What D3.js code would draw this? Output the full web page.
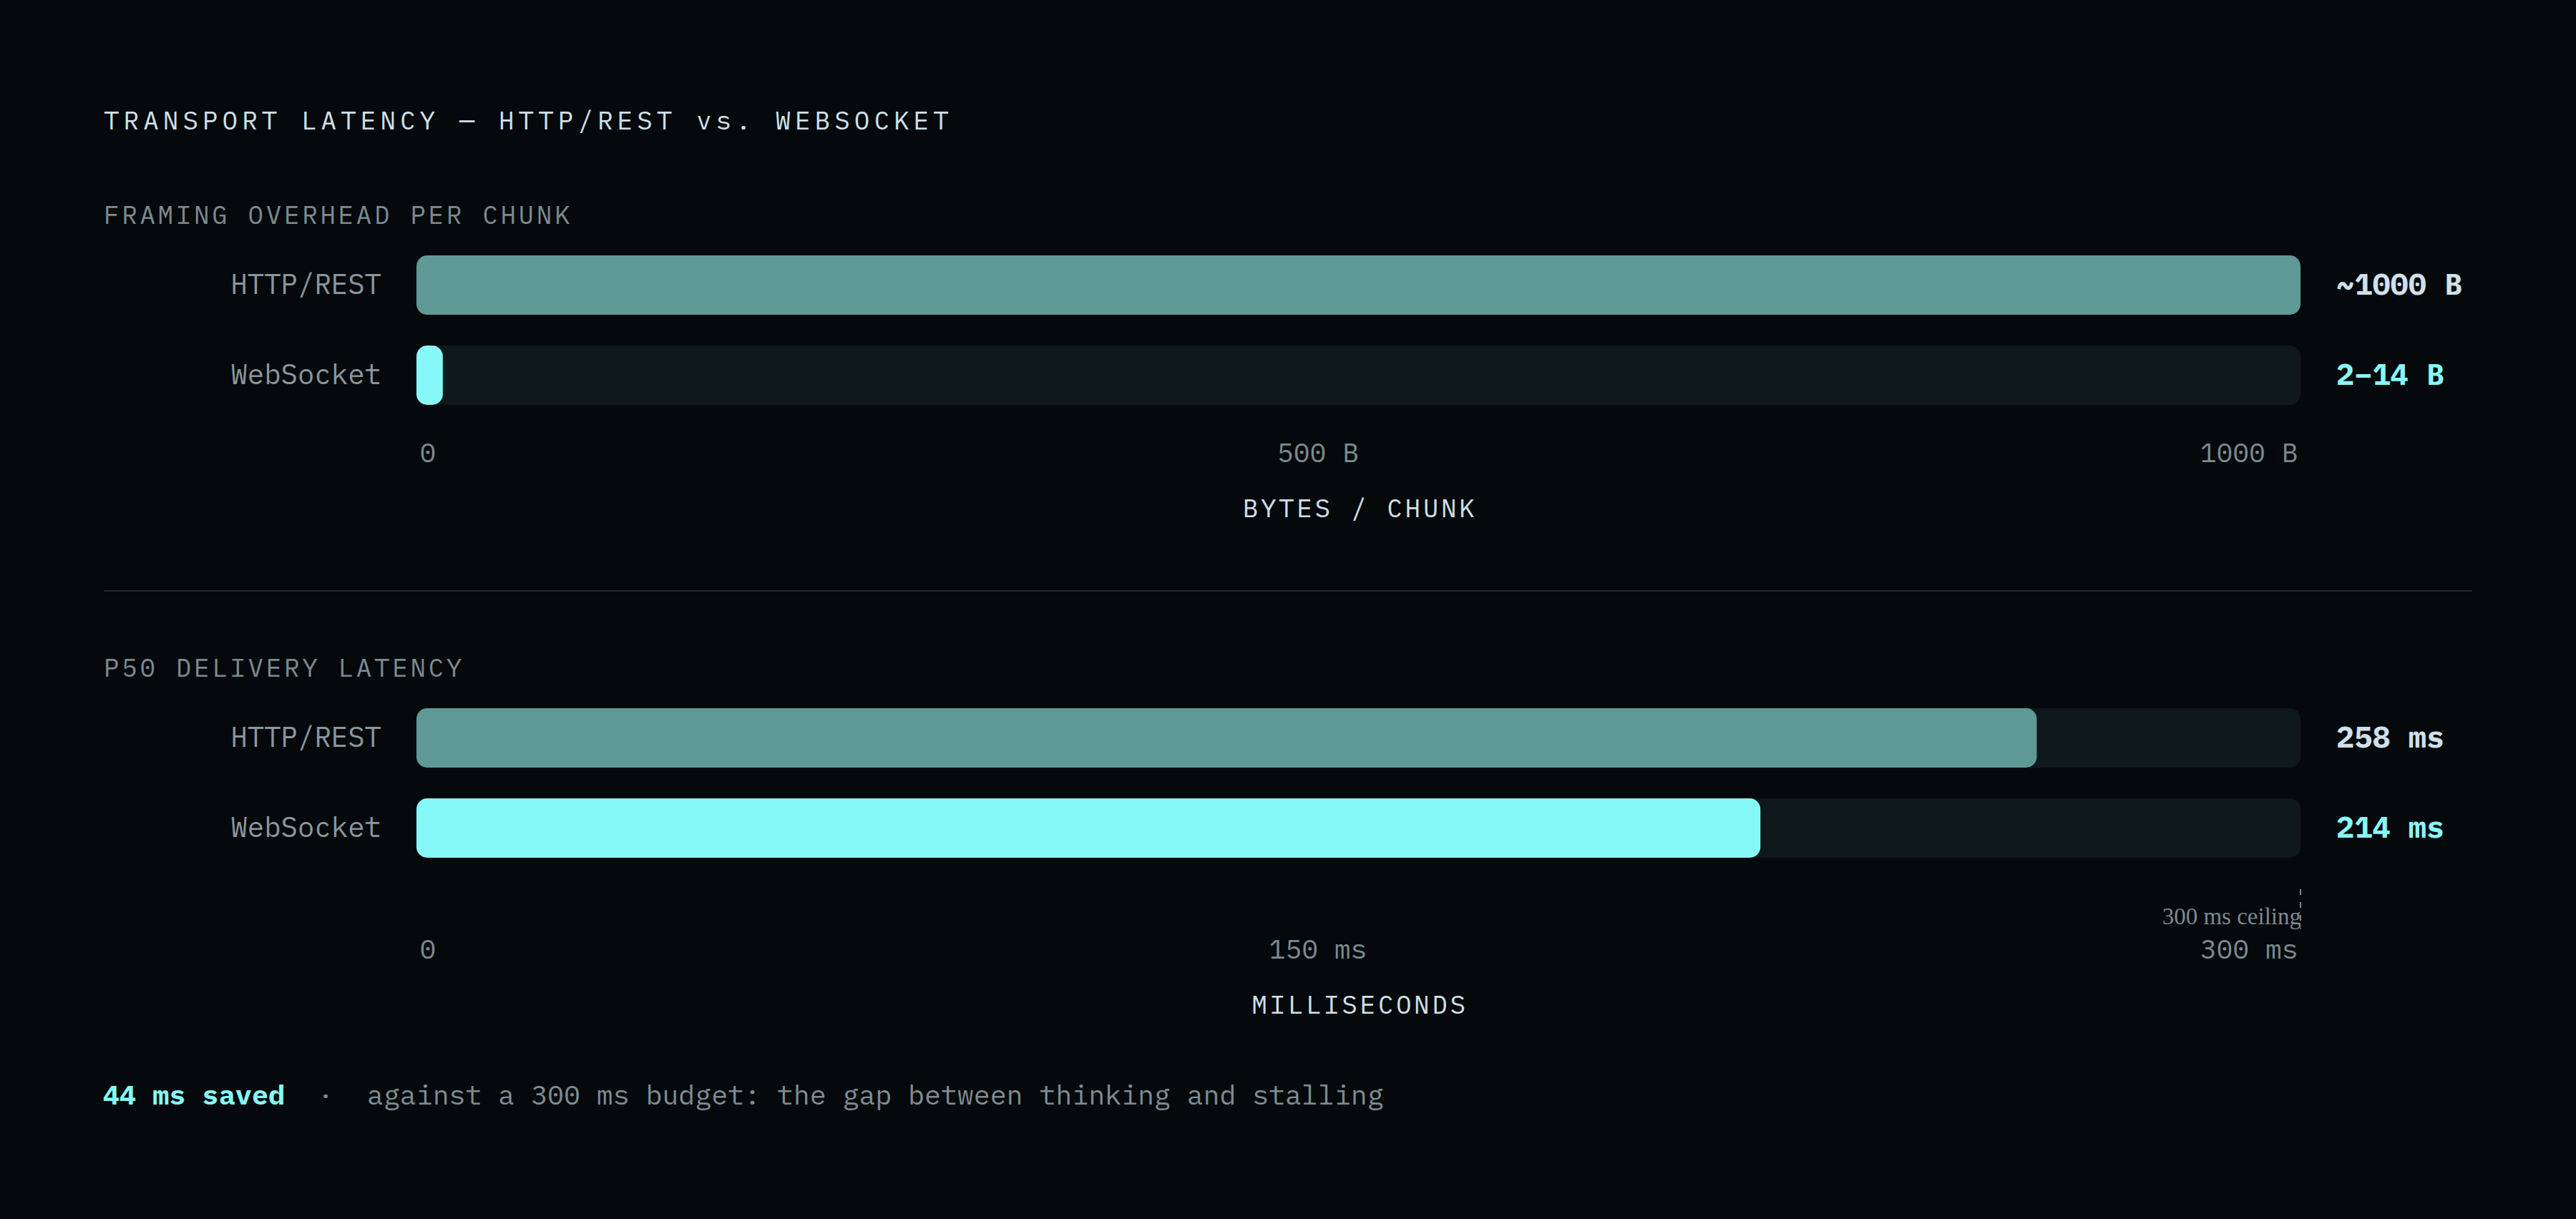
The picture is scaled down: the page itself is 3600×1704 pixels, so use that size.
<!DOCTYPE html>
<html>
<head>
<meta charset="utf-8">
<script src="https://cdn.jsdelivr.net/npm/d3@7"></script>
<style>
  html, body { margin: 0; padding: 0; background: #05090b; }
  svg { display: block; }
  .mono { font-family: "IBM Plex Mono", "DejaVu Sans Mono", monospace; }
</style>
</head>
<body>
<script>
// Chart values
const chartTitle = "TRANSPORT LATENCY — HTTP/REST vs. WEBSOCKET";
const sectionTitles = ["FRAMING OVERHEAD PER CHUNK", "P50 DELIVERY LATENCY"];
const axisTitles = ["BYTES / CHUNK", "MILLISECONDS"];
const transports = ["HTTP/REST", "WebSocket"];

const overheadBytes = [1000, 14];
const overheadLabels = ["~1000 B", "2–14 B"];
const overheadTicks = [0, 500, 1000];
const overheadTickLabels = ["0", "500 B", "1000 B"];

const latencyMs = [258, 214];
const latencyLabels = ["258 ms", "214 ms"];
const latencyTicks = [0, 150, 300];
const latencyTickLabels = ["0", "150 ms", "300 ms"];
const latencyCeiling = 300;

const footnote = "against a 300 ms budget: the gap between thinking and stalling";

// Colours
const bg = "#05090b";
const ink = "#cfe0ea";
const muted = "#7c8a91";
const track = "#0f191b";
const restColor = "#5f9996";
const wsColor = "#87f8f8";
const barColors = [restColor, wsColor];
const valueColors = [ink, wsColor];

// Layout
const W = 3600, H = 1704;
const left = 145;
const barX0 = 582, barX1 = 3215;
const barH = 83, rowStep = 126;

const svg = d3.select("body").append("svg")
  .attr("width", W)
  .attr("height", H)
  .attr("viewBox", `0 0 ${W} ${H}`);

svg.append("rect").attr("width", W).attr("height", H).attr("fill", bg);

svg.append("text")
  .attr("class", "mono")
  .attr("x", left)
  .attr("y", 181)
  .attr("fill", ink)
  .style("font-size", "36px")
  .style("letter-spacing", "6px")
  .text(chartTitle);

// one panel of two horizontal bars with its own axis
function drawPanel(opts) {
  const g = svg.append("g").attr("transform", `translate(0,${opts.top})`);

  const x = d3.scaleLinear()
    .domain([0, opts.max])
    .range([barX0, barX1]);

  const y = d3.scaleBand()
    .domain(transports)
    .range([44, 44 + rowStep + barH])
    .paddingInner((rowStep - barH) / rowStep)
    .paddingOuter(0)
    .align(0);

  g.append("text")
    .attr("class", "mono")
    .attr("x", left)
    .attr("y", 0)
    .attr("fill", muted)
    .style("font-size", "36px")
    .style("letter-spacing", "3.6px")
    .text(opts.title);

  const rows = g.selectAll("g.row")
    .data(transports.map((t, i) => ({ name: t, value: opts.values[i], label: opts.labels[i], i: i })))
    .enter().append("g")
    .attr("class", "row");

  rows.append("rect")
    .attr("x", x(0))
    .attr("y", d => y(d.name))
    .attr("width", x(opts.max) - x(0))
    .attr("height", y.bandwidth())
    .attr("rx", 15)
    .attr("fill", track);

  rows.append("rect")
    .attr("x", x(0))
    .attr("y", d => y(d.name))
    .attr("width", d => x(d.value) - x(0))
    .attr("height", y.bandwidth())
    .attr("rx", 15)
    .attr("fill", d => barColors[d.i]);

  rows.append("text")
    .attr("class", "mono")
    .attr("x", barX0 - 49)
    .attr("y", d => y(d.name) + y.bandwidth() / 2)
    .attr("dy", "0.31em")
    .attr("text-anchor", "end")
    .attr("fill", "#8a979e")
    .style("font-size", "39px")
    .text(d => d.name);

  rows.append("text")
    .attr("class", "mono")
    .attr("x", x(opts.max) + 50)
    .attr("y", d => y(d.name) + y.bandwidth() / 2)
    .attr("dy", "0.31em")
    .attr("fill", d => valueColors[d.i])
    .style("font-size", "42px")
    .style("font-weight", "bold")
    .text(d => d.label);

  // optional ceiling marker
  if (opts.ceiling != null) {
    const cx = x(opts.ceiling);
    g.append("line")
      .attr("x1", cx).attr("x2", cx)
      .attr("y1", opts.tickY - 97).attr("y2", opts.tickY - 42)
      .attr("stroke", muted)
      .attr("stroke-width", 2)
      .attr("stroke-dasharray", "8 10");
    g.append("text")
      .attr("x", cx + 1)
      .attr("y", opts.tickY - 48)
      .attr("text-anchor", "end")
      .attr("fill", muted)
      .style("font-family", "'Liberation Serif', serif")
      .style("font-size", "33px")
      .text(opts.ceiling + " ms ceiling");
  }

  // tick labels laid out like a space-between row: first left, last right, middle in the gap
  const axis = g.append("g")
    .attr("class", "mono")
    .attr("transform", `translate(0,${opts.tickY})`)
    .call(d3.axisBottom(x)
      .tickValues(opts.ticks)
      .tickSize(0)
      .tickPadding(0)
      .tickFormat((d, i) => opts.tickLabels[i]));
  axis.select(".domain").remove();
  axis.attr("font-family", null).attr("font-size", null);
  const tickText = axis.selectAll(".tick text")
    .attr("y", 0)
    .attr("dy", null)
    .attr("fill", muted)
    .style("font-size", "38px");
  const nodes = tickText.nodes();
  const w0 = nodes[0].getComputedTextLength();
  const w2 = nodes[nodes.length - 1].getComputedTextLength();
  tickText.each(function(d, i) {
    const t = d3.select(this);
    const pos = x(d);
    if (i === 0) t.attr("text-anchor", "start").attr("x", 4);
    else if (i === nodes.length - 1) t.attr("text-anchor", "end").attr("x", -4);
    else t.attr("x", (x.range()[0] + x.range()[1] + w0 - w2) / 2 - pos);
  });

  g.append("text")
    .attr("class", "mono")
    .attr("x", (barX0 + barX1) / 2 + 2)
    .attr("y", opts.tickY + 77)
    .attr("text-anchor", "middle")
    .attr("fill", ink)
    .style("font-size", "36px")
    .style("letter-spacing", "3.6px")
    .text(opts.axisTitle);
}

drawPanel({
  top: 313,
  title: sectionTitles[0],
  axisTitle: axisTitles[0],
  max: 1000,
  values: overheadBytes,
  labels: overheadLabels,
  ticks: overheadTicks,
  tickLabels: overheadTickLabels,
  tickY: 333
});

svg.append("line")
  .attr("x1", left).attr("x2", 3455)
  .attr("y1", 826).attr("y2", 826)
  .attr("stroke", "#1c2a2e")
  .attr("stroke-width", 2);

drawPanel({
  top: 946,
  title: sectionTitles[1],
  axisTitle: axisTitles[1],
  max: 300,
  values: latencyMs,
  labels: latencyLabels,
  ticks: latencyTicks,
  tickLabels: latencyTickLabels,
  ceiling: latencyCeiling,
  tickY: 394
});

// footer note
const foot = svg.append("g").attr("class", "mono").attr("transform", "translate(0,1544)");
foot.append("text")
  .attr("x", 144)
  .attr("fill", wsColor)
  .style("font-size", "38.5px")
  .style("font-weight", "bold")
  .text((latencyMs[0] - latencyMs[1]) + " ms saved");
foot.append("text")
  .attr("x", 455)
  .attr("text-anchor", "middle")
  .attr("fill", muted)
  .style("font-size", "38.5px")
  .text("·");
foot.append("text")
  .attr("x", 513)
  .attr("fill", "#7f8c93")
  .style("font-size", "38.2px")
  .text(footnote);
</script>
</body>
</html>
